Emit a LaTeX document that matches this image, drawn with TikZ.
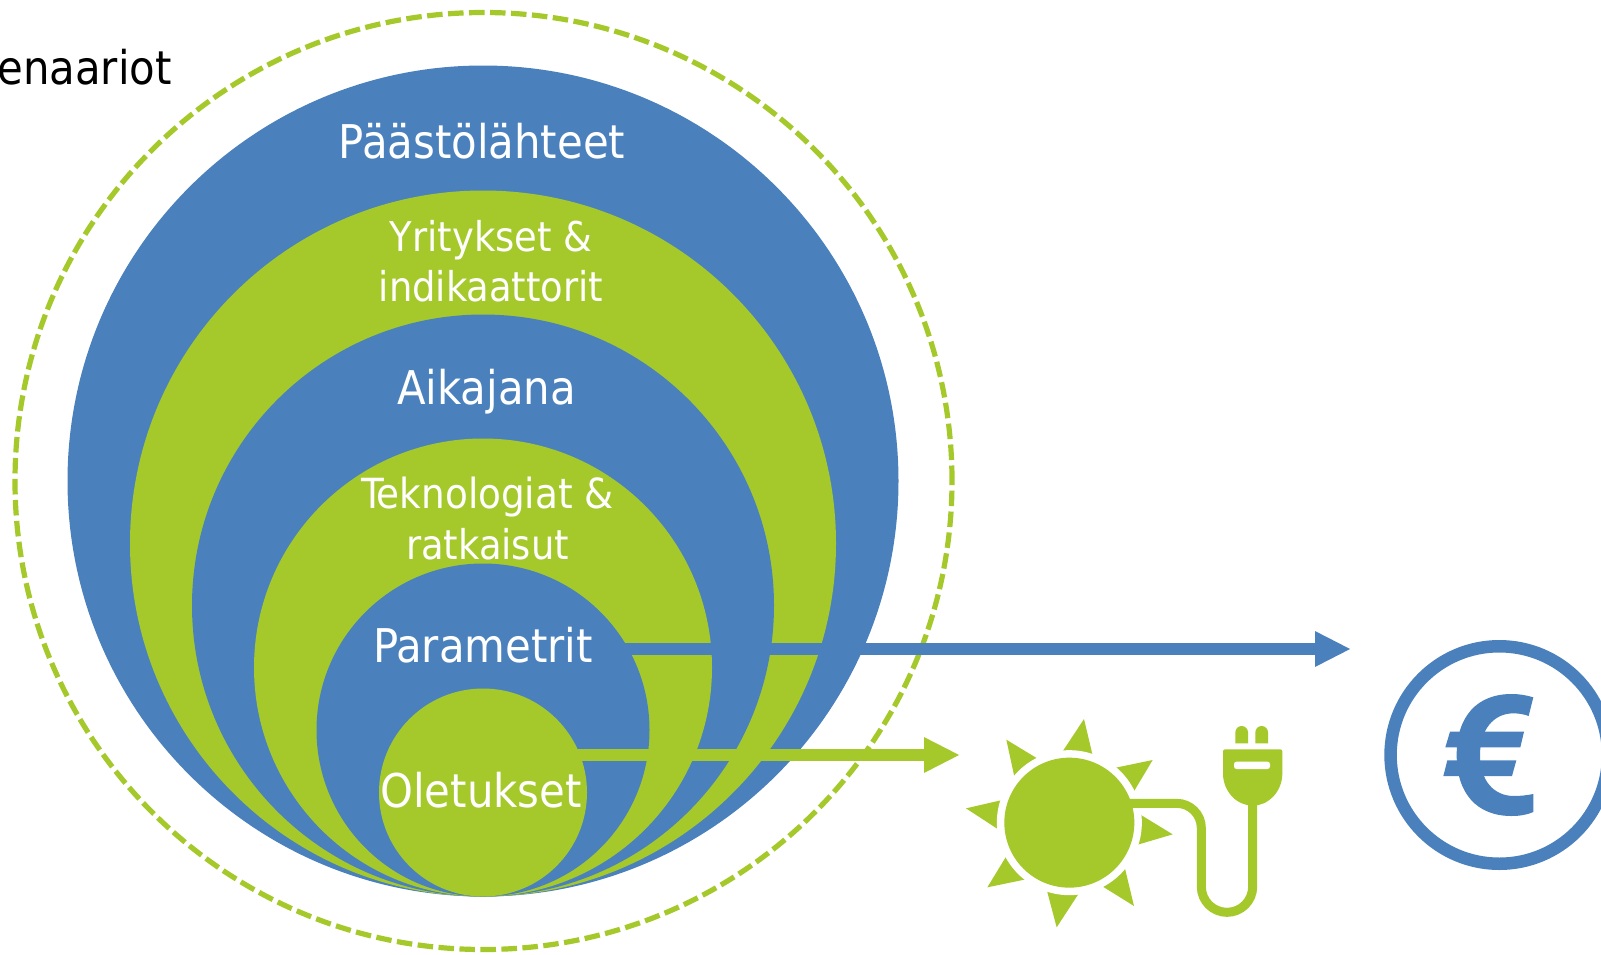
\documentclass[tikz,border=0pt]{standalone}
\usepackage{fontspec}
\setmainfont{DejaVu Sans Condensed}
\usetikzlibrary{arrows.meta,calc}
\definecolor{bluec}{HTML}{4A81BD}
\definecolor{greenc}{HTML}{A5C92B}
\tikzset{
  disc/.style={circle,draw=none,fill=#1,inner sep=0pt,outer sep=0pt},
  lbl/.style={text=white,anchor=base,inner sep=0pt,font=\fontsize{#1}{#1}\selectfont},
  flow/.style={draw=#1,line width=12.3pt,-{Triangle[length=36pt,width=33pt,color=#1]}},
  cable/.style={draw=greenc,line width=9pt}
}
\newcommand{\sunray}[3]{\fill[greenc] (#1) -- ($(#1)!1.25!(#2)$) -- ($(#1)!1.25!(#3)$) -- cycle;}
\begin{document}
\begin{tikzpicture}[x=1pt,y=-1pt]
\clip (0,0) rectangle (1601,954);
\fill[white] (0,0) rectangle (1601,954);
% dashed boundary
\node[circle,draw=greenc,line width=5.2pt,dash pattern=on 15.5pt off 5.5pt,minimum size=937pt,inner sep=0pt] (scen) at (483.5,481) {};
% nested discs
\node[disc=bluec,minimum size=831pt]  (c1) at (483,481) {};
\node[disc=greenc,minimum size=706pt] (c2) at (483,543.5) {};
\node[disc=bluec,minimum size=582pt]  (c3) at (483,605.5) {};
\node[disc=greenc,minimum size=458pt] (c4) at (483,667.5) {};
\node[disc=bluec,minimum size=333pt]  (c5) at (483,730) {};
\node[disc=greenc,minimum size=208pt] (c6) at (483,792.5) {};
% labels
\node[lbl=46.5] (t1) at (482,158) {Päästölähteet};
\node[lbl=41] (t2a) at (491,251) {Yritykset \&};
\node[lbl=41] (t2b) at (491,301) {indikaattorit};
\node[lbl=46.5] (t3) at (486.5,404) {Aikajana};
\node[lbl=41.5] (t4a) at (487.5,508) {Teknologiat \&};
\node[lbl=41] (t4b) at (487.5,559) {ratkaisut};
\node[lbl=46.5] (t5) at (483,662) {Parametrit};
\node[lbl=46.5] (t6) at (481,807) {Oletukset};
\node[anchor=base east,inner sep=0pt,font=\fontsize{46.5}{46.5}\selectfont,text=black] (t0) at (172,84) {enaariot};
% arrows
\coordinate (bs) at (625,649);
\coordinate (be) at (1351,649);
\coordinate (gs) at (577,755);
\coordinate (ge) at (960,755);
\draw[flow=bluec] (bs) -- (be);
\draw[flow=greenc] (gs) -- (ge);
% sun and plug
\begin{scope}[shift={(940,680)},x=0.33333pt,y=-0.33333pt]
\sunray{432,117}{372,208}{456,218}
\sunray{199,179}{288,233}{222,285}
\sunray{638,240}{532,262}{586,327}
\sunray{78,385}{178,362}{170,445}
\sunray{698,463}{608,408}{600,492}
\sunray{142,622}{195,535}{248,600}
\sunray{350,742}{323,640}{410,650}
\sunray{582,678}{492,622}{556,570}
\node[disc=white,minimum size=145pt] (gap) at (388,428) {};
\node[disc=greenc,minimum size=130pt] (sun) at (388,428) {};
\coordinate (cablestart) at (570,370);
\coordinate (plugin) at (938,370);
\draw[cable] (cablestart) -- (710,370) arc[start angle=270,end angle=360,radius=74] -- (784,620) arc[start angle=180,end angle=0,radius=77] -- (plugin);
\fill[greenc,rounded corners=2pt] (849,208) -- (1027,208) -- (1027,285) -- (849,285) -- cycle;
\fill[greenc] (849,280) .. controls (849,335) and (891,377) .. (938,377) .. controls (985,377) and (1027,335) .. (1027,280) -- cycle;
\fill[greenc] (886,190) -- (886,157) arc[start angle=180,end angle=360,radius=19] -- (924,190) -- cycle;
\fill[greenc] (946,190) -- (946,157) arc[start angle=180,end angle=360,radius=19] -- (984,190) -- cycle;
\fill[white,rounded corners=2.5pt] (882,245) rectangle (990,267);
\end{scope}
% euro coin
\node[circle,draw=bluec,line width=12.5pt,minimum size=217.5pt,inner sep=0pt,fill=white] (coin) at (1499.3,755) {};
\begin{scope}[shift={(1340,610)},x=0.33333pt,y=-0.33333pt]
\fill[bluec] (580,262) .. controls (558,255) and (535,252) .. (515,252) .. controls (410,252) and (350,320) .. (350,435) .. controls (350,550) and (410,618) .. (515,618) .. controls (540,618) and (562,614) .. (580,606) -- (580,552) .. controls (560,556) and (540,558) .. (522,558) .. controls (460,558) and (420,510) .. (420,435) .. controls (420,360) and (460,310) .. (520,310) .. controls (538,310) and (552,313) .. (566,318) -- cycle;
\fill[bluec] (330,365) -- (552,365) -- (541,412) -- (316,412) -- cycle;
\fill[bluec] (322,451) -- (529,451) -- (516,498) -- (310,498) -- cycle;
\end{scope}
\end{tikzpicture}
\end{document}
